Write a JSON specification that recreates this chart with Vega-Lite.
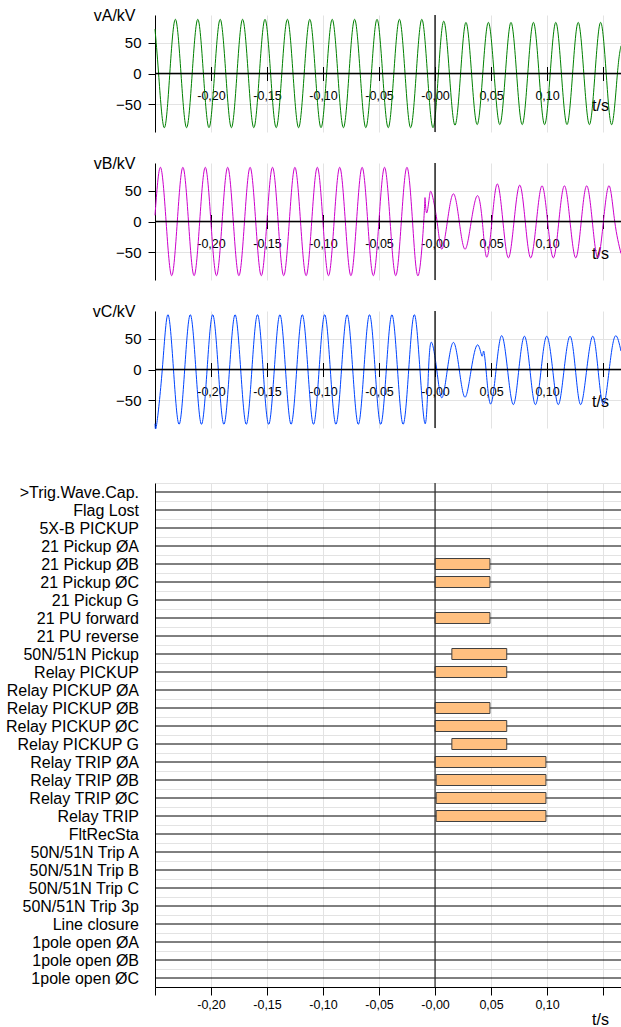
{
  "$schema": "https://vega.github.io/schema/vega-lite/v6.json",
  "padding": {"left": 5, "top": 7, "right": 0, "bottom": 2},
  "spacing": 22,
  "config": {
    "font": "Liberation Sans",
    "view": {"stroke": null},
    "axis": {"labelColor": "black", "titleColor": "black", "domainColor": "black", "tickColor": "black", "gridColor": "#e3e3e3", "titleFontWeight": "normal", "labelFont": "Liberation Sans", "titleFont": "Liberation Sans"}
  },
  "datasets": {
    "va": [
      {"t":-0.25,"v":72},{"t":-0.2468,"v":0},{"t":-0.2418,"v":-88},{"t":-0.2368,"v":0},{"t":-0.2318,"v":88},{"t":-0.2268,"v":0},{"t":-0.2218,"v":-88},{"t":-0.2168,"v":0},{"t":-0.2118,"v":88},{"t":-0.2068,"v":0},{"t":-0.2018,"v":-88},{"t":-0.1968,"v":0},{"t":-0.1918,"v":88},{"t":-0.1868,"v":0},{"t":-0.1818,"v":-88},{"t":-0.1768,"v":0},{"t":-0.1718,"v":88},{"t":-0.1668,"v":0},{"t":-0.1618,"v":-88},{"t":-0.1568,"v":0},{"t":-0.1518,"v":88},{"t":-0.1468,"v":0},{"t":-0.1418,"v":-88},{"t":-0.1368,"v":0},{"t":-0.1318,"v":88},{"t":-0.1268,"v":0},{"t":-0.1218,"v":-88},{"t":-0.1168,"v":0},{"t":-0.1118,"v":88},{"t":-0.1068,"v":0},{"t":-0.1018,"v":-88},{"t":-0.0968,"v":0},{"t":-0.0918,"v":88},{"t":-0.0868,"v":0},{"t":-0.0818,"v":-88},{"t":-0.0768,"v":0},{"t":-0.0718,"v":88},{"t":-0.0668,"v":0},{"t":-0.0618,"v":-88},{"t":-0.0568,"v":0},{"t":-0.0518,"v":88},{"t":-0.0468,"v":0},{"t":-0.0418,"v":-88},{"t":-0.0368,"v":0},{"t":-0.0318,"v":88},{"t":-0.0268,"v":0},{"t":-0.0218,"v":-88},{"t":-0.0168,"v":0},{"t":-0.0118,"v":88},{"t":-0.0068,"v":0},{"t":-0.0018,"v":-88},{"t":0.003,"v":0},{"t":0.0078,"v":85},{"t":0.0128,"v":0},{"t":0.0178,"v":-84},{"t":0.0228,"v":0},{"t":0.0276,"v":83},{"t":0.0326,"v":0},{"t":0.0376,"v":-83},{"t":0.0426,"v":0},{"t":0.0476,"v":83},{"t":0.0527,"v":0},{"t":0.0578,"v":-83},{"t":0.0628,"v":0},{"t":0.0678,"v":83},{"t":0.0728,"v":0},{"t":0.0778,"v":-83},{"t":0.0828,"v":0},{"t":0.0878,"v":83},{"t":0.0928,"v":0},{"t":0.0978,"v":-83},{"t":0.1028,"v":0},{"t":0.1078,"v":83},{"t":0.1128,"v":0},{"t":0.1178,"v":-83},{"t":0.1228,"v":0},{"t":0.1278,"v":83},{"t":0.1328,"v":0},{"t":0.1378,"v":-83},{"t":0.1428,"v":0},{"t":0.1478,"v":83},{"t":0.1528,"v":0},{"t":0.1578,"v":-83},{"t":0.1628,"v":0},{"t":0.166,"v":45}
    ],
    "vb": [
      {"t":-0.25,"v":10},{"t":-0.2451,"v":88},{"t":-0.2401,"v":0},{"t":-0.2351,"v":-88},{"t":-0.2301,"v":0},{"t":-0.2251,"v":88},{"t":-0.2201,"v":0},{"t":-0.2151,"v":-88},{"t":-0.2101,"v":0},{"t":-0.2051,"v":88},{"t":-0.2001,"v":0},{"t":-0.1951,"v":-88},{"t":-0.1901,"v":0},{"t":-0.1851,"v":88},{"t":-0.1801,"v":0},{"t":-0.1751,"v":-88},{"t":-0.1701,"v":0},{"t":-0.1651,"v":88},{"t":-0.1601,"v":0},{"t":-0.1551,"v":-88},{"t":-0.1501,"v":0},{"t":-0.1451,"v":88},{"t":-0.1401,"v":0},{"t":-0.1351,"v":-88},{"t":-0.1301,"v":0},{"t":-0.1251,"v":88},{"t":-0.1201,"v":0},{"t":-0.1151,"v":-88},{"t":-0.1101,"v":0},{"t":-0.1051,"v":88},{"t":-0.1001,"v":0},{"t":-0.0951,"v":-88},{"t":-0.0901,"v":0},{"t":-0.0851,"v":88},{"t":-0.0801,"v":0},{"t":-0.0751,"v":-88},{"t":-0.0701,"v":0},{"t":-0.0651,"v":88},{"t":-0.0601,"v":0},{"t":-0.0551,"v":-88},{"t":-0.0501,"v":0},{"t":-0.0451,"v":88},{"t":-0.0401,"v":0},{"t":-0.0351,"v":-88},{"t":-0.0301,"v":0},{"t":-0.0251,"v":88},{"t":-0.0201,"v":0},{"t":-0.0151,"v":-88},{"t":-0.0101,"v":0},{"t":-0.0089,"v":38},{"t":-0.0076,"v":14},{"t":-0.0052,"v":38},{"t":-0.003,"v":46},{"t":0.0018,"v":0},{"t":0.006,"v":-45},{"t":0.011,"v":0},{"t":0.0164,"v":45},{"t":0.0216,"v":0},{"t":0.0268,"v":-45},{"t":0.0323,"v":0},{"t":0.0378,"v":42},{"t":0.0422,"v":0},{"t":0.0461,"v":-58},{"t":0.0508,"v":0},{"t":0.0556,"v":61},{"t":0.0606,"v":0},{"t":0.0655,"v":-59},{"t":0.0705,"v":0},{"t":0.0756,"v":59},{"t":0.0805,"v":0},{"t":0.0854,"v":-59},{"t":0.0905,"v":0},{"t":0.0955,"v":58},{"t":0.1005,"v":0},{"t":0.1056,"v":-59},{"t":0.1105,"v":0},{"t":0.1155,"v":58},{"t":0.1205,"v":0},{"t":0.1256,"v":-59},{"t":0.1305,"v":0},{"t":0.1354,"v":58},{"t":0.1404,"v":0},{"t":0.1453,"v":-59},{"t":0.1503,"v":0},{"t":0.1554,"v":58},{"t":0.1604,"v":0},{"t":0.166,"v":-52}
    ],
    "vc": [
      {"t":-0.25,"v":-88},{"t":-0.2485,"v":-89},{"t":-0.2435,"v":0},{"t":-0.2385,"v":89},{"t":-0.2335,"v":0},{"t":-0.2285,"v":-89},{"t":-0.2235,"v":0},{"t":-0.2185,"v":89},{"t":-0.2135,"v":0},{"t":-0.2085,"v":-89},{"t":-0.2035,"v":0},{"t":-0.1985,"v":89},{"t":-0.1935,"v":0},{"t":-0.1885,"v":-89},{"t":-0.1835,"v":0},{"t":-0.1785,"v":89},{"t":-0.1735,"v":0},{"t":-0.1685,"v":-89},{"t":-0.1635,"v":0},{"t":-0.1585,"v":89},{"t":-0.1535,"v":0},{"t":-0.1485,"v":-89},{"t":-0.1435,"v":0},{"t":-0.1385,"v":89},{"t":-0.1335,"v":0},{"t":-0.1285,"v":-89},{"t":-0.1235,"v":0},{"t":-0.1185,"v":89},{"t":-0.1135,"v":0},{"t":-0.1085,"v":-89},{"t":-0.1035,"v":0},{"t":-0.0985,"v":89},{"t":-0.0935,"v":0},{"t":-0.0885,"v":-89},{"t":-0.0835,"v":0},{"t":-0.0785,"v":89},{"t":-0.0735,"v":0},{"t":-0.0685,"v":-89},{"t":-0.0635,"v":0},{"t":-0.0585,"v":89},{"t":-0.0535,"v":0},{"t":-0.0485,"v":-89},{"t":-0.0435,"v":0},{"t":-0.0385,"v":89},{"t":-0.0335,"v":0},{"t":-0.0285,"v":-89},{"t":-0.0235,"v":0},{"t":-0.0185,"v":89},{"t":-0.0135,"v":0},{"t":-0.0087,"v":-88},{"t":-0.0058,"v":0},{"t":-0.003,"v":44},{"t":0.0015,"v":0},{"t":0.006,"v":-46},{"t":0.011,"v":0},{"t":0.0164,"v":44},{"t":0.0216,"v":0},{"t":0.0268,"v":-45},{"t":0.0323,"v":0},{"t":0.0378,"v":40},{"t":0.0418,"v":22},{"t":0.0433,"v":30},{"t":0.0455,"v":0},{"t":0.0495,"v":-56},{"t":0.0545,"v":0},{"t":0.0595,"v":55},{"t":0.0647,"v":0},{"t":0.0699,"v":-57},{"t":0.0748,"v":0},{"t":0.0798,"v":54},{"t":0.0847,"v":0},{"t":0.0896,"v":-57},{"t":0.0947,"v":0},{"t":0.0997,"v":54},{"t":0.105,"v":0},{"t":0.11,"v":-57},{"t":0.1152,"v":0},{"t":0.1205,"v":54},{"t":0.1253,"v":0},{"t":0.13,"v":-57},{"t":0.1354,"v":0},{"t":0.1408,"v":54},{"t":0.1455,"v":0},{"t":0.1503,"v":-57},{"t":0.1555,"v":0},{"t":0.1607,"v":54},{"t":0.166,"v":30}
    ],
    "signals": [
      {"name":">Trig.Wave.Cap."},{"name":"Flag Lost"},{"name":"5X-B PICKUP"},{"name":"21 Pickup ØA"},{"name":"21 Pickup ØB"},{"name":"21 Pickup ØC"},{"name":"21 Pickup G"},{"name":"21 PU forward"},{"name":"21 PU reverse"},{"name":"50N/51N Pickup"},{"name":"Relay PICKUP"},{"name":"Relay PICKUP ØA"},{"name":"Relay PICKUP ØB"},{"name":"Relay PICKUP ØC"},{"name":"Relay PICKUP G"},{"name":"Relay TRIP ØA"},{"name":"Relay TRIP ØB"},{"name":"Relay TRIP ØC"},{"name":"Relay TRIP"},{"name":"FltRecSta"},{"name":"50N/51N Trip A"},{"name":"50N/51N Trip B"},{"name":"50N/51N Trip C"},{"name":"50N/51N Trip 3p"},{"name":"Line closure"},{"name":"1pole open ØA"},{"name":"1pole open ØB"},{"name":"1pole open ØC"}
    ],
    "bars": [
      {"name":"21 Pickup ØB","start":0,"end":0.049},
      {"name":"21 Pickup ØC","start":0,"end":0.049},
      {"name":"21 PU forward","start":0,"end":0.049},
      {"name":"50N/51N Pickup","start":0.015,"end":0.064},
      {"name":"Relay PICKUP","start":0,"end":0.064},
      {"name":"Relay PICKUP ØB","start":0,"end":0.049},
      {"name":"Relay PICKUP ØC","start":0,"end":0.064},
      {"name":"Relay PICKUP G","start":0.015,"end":0.064},
      {"name":"Relay TRIP ØA","start":0,"end":0.099},
      {"name":"Relay TRIP ØB","start":0.001,"end":0.099},
      {"name":"Relay TRIP ØC","start":0.001,"end":0.099},
      {"name":"Relay TRIP","start":0.001,"end":0.099}
    ]
  },
  "vconcat": [
    {
      "width": 466, "height": 117,
      "layer": [
        {
          "data": {"name": "va"},
          "mark": {"type": "line", "color": "#008000", "strokeWidth": 1, "interpolate": "natural"},
          "encoding": {
            "x": {"field": "t", "type": "quantitative", "title": "t/s", "scale": {"domain": [-0.25, 0.166], "nice": false, "zero": false},
              "axis": {"values": [-0.25,-0.2,-0.15,-0.1,-0.05,0,0.05,0.1,0.15], "offset": -65.5, "domain": false, "tickSize": 14, "labelFontSize": 12.5, "labelPadding": 9, "labelFlush": false, "labelOverlap": false,
                "labelExpr": "datum.value < -0.245 || datum.value > 0.145 ? '' : (abs(datum.value) < 0.001 ? '-0,00' : replace(replace(format(datum.value, '.2f'), '.', ','), '\u2212', '-'))",
                "grid": true, "titleFontSize": 16, "titleX": 445, "titleY": 38.5, "titleAlign": "center", "titleBaseline": "middle"}},
            "y": {"field": "v", "type": "quantitative", "title": "vA/kV", "scale": {"domain": [-95, 95], "nice": false},
              "axis": {"values": [-50, 0, 50], "tickSize": 7, "labelFontSize": 15, "labelPadding": 7, "grid": true, "titleFontSize": 16, "titleAngle": 0, "titleAlign": "right", "titleBaseline": "middle", "titleX": -20, "titleY": 0}}
          }
        },
        {"data": {"values": [{}]}, "mark": {"type": "rule", "color": "black", "strokeWidth": 1.3}, "encoding": {"y": {"datum": 0, "type": "quantitative", "title": "vA/kV"}}},
        {"data": {"values": [{}]}, "mark": {"type": "rule", "color": "black", "strokeWidth": 1.3}, "encoding": {"x": {"datum": 0, "type": "quantitative", "title": "t/s"}}}
      ]
    },
    {
      "width": 466, "height": 117,
      "layer": [
        {
          "data": {"name": "vb"},
          "mark": {"type": "line", "color": "#cc00cc", "strokeWidth": 1, "interpolate": "natural"},
          "encoding": {
            "x": {"field": "t", "type": "quantitative", "title": "t/s", "scale": {"domain": [-0.25, 0.166], "nice": false, "zero": false},
              "axis": {"values": [-0.25,-0.2,-0.15,-0.1,-0.05,0,0.05,0.1,0.15], "offset": -65.5, "domain": false, "tickSize": 14, "labelFontSize": 12.5, "labelPadding": 9, "labelFlush": false, "labelOverlap": false,
                "labelExpr": "datum.value < -0.245 || datum.value > 0.145 ? '' : (abs(datum.value) < 0.001 ? '-0,00' : replace(replace(format(datum.value, '.2f'), '.', ','), '\u2212', '-'))",
                "grid": true, "titleFontSize": 16, "titleX": 445, "titleY": 38.5, "titleAlign": "center", "titleBaseline": "middle"}},
            "y": {"field": "v", "type": "quantitative", "title": "vB/kV", "scale": {"domain": [-95, 95], "nice": false},
              "axis": {"values": [-50, 0, 50], "tickSize": 7, "labelFontSize": 15, "labelPadding": 7, "grid": true, "titleFontSize": 16, "titleAngle": 0, "titleAlign": "right", "titleBaseline": "middle", "titleX": -20, "titleY": 0}}
          }
        },
        {"data": {"values": [{}]}, "mark": {"type": "rule", "color": "black", "strokeWidth": 1.3}, "encoding": {"y": {"datum": 0, "type": "quantitative", "title": "vB/kV"}}},
        {"data": {"values": [{}]}, "mark": {"type": "rule", "color": "black", "strokeWidth": 1.3}, "encoding": {"x": {"datum": 0, "type": "quantitative", "title": "t/s"}}}
      ]
    },
    {
      "width": 466, "height": 117,
      "layer": [
        {
          "data": {"name": "vc"},
          "mark": {"type": "line", "color": "#0044ff", "strokeWidth": 1, "interpolate": "natural"},
          "encoding": {
            "x": {"field": "t", "type": "quantitative", "title": "t/s", "scale": {"domain": [-0.25, 0.166], "nice": false, "zero": false},
              "axis": {"values": [-0.25,-0.2,-0.15,-0.1,-0.05,0,0.05,0.1,0.15], "offset": -65.5, "domain": false, "tickSize": 14, "labelFontSize": 12.5, "labelPadding": 9, "labelFlush": false, "labelOverlap": false, "minExtent": 90.5,
                "labelExpr": "datum.value < -0.245 || datum.value > 0.145 ? '' : (abs(datum.value) < 0.001 ? '-0,00' : replace(replace(format(datum.value, '.2f'), '.', ','), '\u2212', '-'))",
                "grid": true, "titleFontSize": 16, "titleX": 445, "titleY": 38.5, "titleAlign": "center", "titleBaseline": "middle"}},
            "y": {"field": "v", "type": "quantitative", "title": "vC/kV", "scale": {"domain": [-95, 95], "nice": false},
              "axis": {"values": [-50, 0, 50], "tickSize": 7, "labelFontSize": 15, "labelPadding": 7, "grid": true, "titleFontSize": 16, "titleAngle": 0, "titleAlign": "right", "titleBaseline": "middle", "titleX": -20, "titleY": 0}}
          }
        },
        {"data": {"values": [{}]}, "mark": {"type": "rule", "color": "black", "strokeWidth": 1.3}, "encoding": {"y": {"datum": 0, "type": "quantitative", "title": "vC/kV"}}},
        {"data": {"values": [{}]}, "mark": {"type": "rule", "color": "black", "strokeWidth": 1.3}, "encoding": {"x": {"datum": 0, "type": "quantitative", "title": "t/s"}}}
      ]
    },
    {
      "width": 466, "height": 504,
      "layer": [
        {
          "data": {"name": "signals"},
          "mark": {"type": "rule", "color": "black", "strokeWidth": 1},
          "encoding": {
            "y": {"field": "name", "type": "nominal", "sort": null, "title": null,
              "scale": {"domain": [">Trig.Wave.Cap.","Flag Lost","5X-B PICKUP","21 Pickup ØA","21 Pickup ØB","21 Pickup ØC","21 Pickup G","21 PU forward","21 PU reverse","50N/51N Pickup","Relay PICKUP","Relay PICKUP ØA","Relay PICKUP ØB","Relay PICKUP ØC","Relay PICKUP G","Relay TRIP ØA","Relay TRIP ØB","Relay TRIP ØC","Relay TRIP","FltRecSta","50N/51N Trip A","50N/51N Trip B","50N/51N Trip C","50N/51N Trip 3p","Line closure","1pole open ØA","1pole open ØB","1pole open ØC"], "paddingInner": 0, "paddingOuter": 0},
              "axis": {"ticks": false, "labelFontSize": 16, "labelPadding": 16.5, "grid": true, "tickBand": "extent", "labelLimit": 300}}
          }
        },
        {
          "data": {"name": "bars"},
          "mark": {"type": "bar", "height": 11, "fill": "#ffc080", "stroke": "#404040", "strokeWidth": 1},
          "encoding": {
            "y": {"field": "name", "type": "nominal", "sort": null, "title": null},
            "x": {"field": "start", "type": "quantitative", "title": "t/s", "scale": {"domain": [-0.25, 0.166], "nice": false, "zero": false},
              "axis": {"values": [-0.25,-0.2,-0.15,-0.1,-0.05,0,0.05,0.1,0.15], "tickSize": 8, "labelFontSize": 12.5, "labelPadding": 3, "labelFlush": false, "labelOverlap": false,
                "labelExpr": "datum.value < -0.245 || datum.value > 0.145 ? '' : (abs(datum.value) < 0.001 ? '-0,00' : replace(replace(format(datum.value, '.2f'), '.', ','), '\u2212', '-'))",
                "grid": true, "titleFontSize": 16, "titleX": 445, "titleY": 32, "titleAlign": "center", "titleBaseline": "middle"}},
            "x2": {"field": "end"}
          }
        },
        {"data": {"values": [{}]}, "mark": {"type": "rule", "color": "#333333", "strokeWidth": 1.3}, "encoding": {"x": {"datum": 0, "type": "quantitative", "title": "t/s"}}}
      ]
    }
  ]
}
